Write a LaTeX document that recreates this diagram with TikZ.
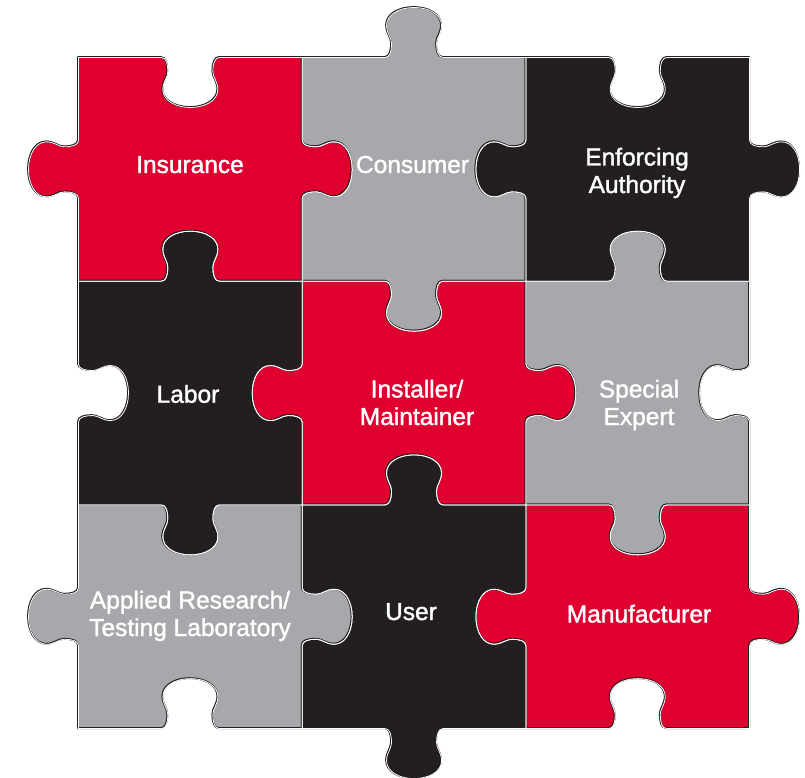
\documentclass[tikz,border=0pt]{standalone}
\usepackage{fontspec}
\setmainfont{Liberation Sans}
\newfontfamily\lblfont[FakeBold=1.5]{Liberation Sans}
\definecolor{pzred}{HTML}{DF0030}
\definecolor{pzgray}{HTML}{A7A8AB}
\definecolor{pzblack}{HTML}{231F20}
% point on a knob profile: #1,#2 edge centre, #3,#4 edge direction, #5 sign (1 tab, -1 hole), #6 along, #7 out
\newcommand\kq[7]{({#1+(#6)*(#3)+(#5)*(#7)*(#4)},{#2+(#6)*(#4)-(#5)*(#7)*(#3)})}
\newcommand\kn[5]{-- \kq{#1}{#2}{#3}{#4}{#5}{-29}{0}
 .. controls \kq{#1}{#2}{#3}{#4}{#5}{-24}{0} and \kq{#1}{#2}{#3}{#4}{#5}{-22.5}{7} .. \kq{#1}{#2}{#3}{#4}{#5}{-22.5}{14}
 .. controls \kq{#1}{#2}{#3}{#4}{#5}{-22.5}{20} and \kq{#1}{#2}{#3}{#4}{#5}{-27.5}{24} .. \kq{#1}{#2}{#3}{#4}{#5}{-27.5}{32}
 .. controls \kq{#1}{#2}{#3}{#4}{#5}{-27.5}{43} and \kq{#1}{#2}{#3}{#4}{#5}{-15}{50} .. \kq{#1}{#2}{#3}{#4}{#5}{0}{50}
 .. controls \kq{#1}{#2}{#3}{#4}{#5}{15}{50} and \kq{#1}{#2}{#3}{#4}{#5}{27.5}{43} .. \kq{#1}{#2}{#3}{#4}{#5}{27.5}{32}
 .. controls \kq{#1}{#2}{#3}{#4}{#5}{27.5}{24} and \kq{#1}{#2}{#3}{#4}{#5}{22.5}{20} .. \kq{#1}{#2}{#3}{#4}{#5}{22.5}{14}
 .. controls \kq{#1}{#2}{#3}{#4}{#5}{22.5}{7} and \kq{#1}{#2}{#3}{#4}{#5}{24}{0} .. \kq{#1}{#2}{#3}{#4}{#5}{29}{0}}
% whole piece: #1,#2 top-left corner, #3..#6 signs of top, right, bottom, left
\newcommand\pp[6]{({#1},{#2}) \kn{#1+111.85}{#2}{1}{0}{#3} -- ({#1+223.7},{#2}) \kn{#1+223.7}{#2+111.85}{0}{1}{#4} -- ({#1+223.7},{#2+223.7}) \kn{#1+111.85}{#2+223.7}{-1}{0}{#5} -- ({#1},{#2+223.7}) \kn{#1}{#2+111.85}{0}{-1}{#6} -- cycle}
\edef\pIns{\pp{78}{57}{-1}{1}{-1}{1}}
\edef\pCon{\pp{301.7}{57}{1}{-1}{1}{-1}}
\edef\pEnf{\pp{525.4}{57}{-1}{1}{-1}{1}}
\edef\pLab{\pp{78}{280.7}{1}{-1}{1}{-1}}
\edef\pMnt{\pp{301.7}{280.7}{-1}{1}{-1}{1}}
\edef\pSpe{\pp{525.4}{280.7}{1}{-1}{1}{-1}}
\edef\pApp{\pp{78}{504.4}{-1}{1}{-1}{1}}
\edef\pUse{\pp{301.7}{504.4}{1}{-1}{1}{-1}}
\edef\pMan{\pp{525.4}{504.4}{-1}{1}{-1}{1}}
\tikzset{
  edgedark/.style={draw=pzblack, line width=1.8, line join=round},
  edgelight/.style={draw=white, line width=0.8, line join=round},
  lbl/.style={text=white, font=\lblfont\fontsize{24.5}{27.5}\selectfont, align=center, inner sep=0pt, anchor=base}
}
\begin{document}
\begin{tikzpicture}[x=1pt,y=-1pt]
\fill[white] (0,0) rectangle (805,778);
\useasboundingbox (0,0) rectangle (805,778);
% fills
\fill[pzred]   \pIns;
\fill[pzgray]  \pCon;
\fill[pzblack] \pEnf;
\fill[pzblack] \pLab;
\fill[pzred]   \pMnt;
\fill[pzgray]  \pSpe;
\fill[pzgray]  \pApp;
\fill[pzblack] \pUse;
\fill[pzred]   \pMan;
% outlines
\foreach \q in {\pIns,\pCon,\pEnf,\pLab,\pMnt,\pSpe,\pApp,\pUse,\pMan}{
  \path[edgedark] \q;
}
\begin{scope}[shift={(0.5,0.5)}]
\foreach \q in {\pIns,\pCon,\pEnf,\pLab,\pMnt,\pSpe,\pApp,\pUse,\pMan}{
  \path[edgelight] \q;
}
\end{scope}
% labels (base = baseline of the last line)
\node[lbl] (ins)  at (190,173)   {Insurance};
\node[lbl] (con)  at (412.5,173) {Consumer};
\node[lbl] (enf)  at (637,193)   {Enforcing\\Authority};
\node[lbl] (lab)  at (188,402.7) {Labor};
\node[lbl] (mnt)  at (417,425)   {Installer/\\Maintainer};
\node[lbl] (spe)  at (639,425)   {Special\\Expert};
\node[lbl] (app)  at (190,636)   {Applied Research/\\Testing Laboratory};
\node[lbl] (use)  at (411,620)   {User};
\node[lbl] (man)  at (639,622.5) {Manufacturer};
\end{tikzpicture}
\end{document}
